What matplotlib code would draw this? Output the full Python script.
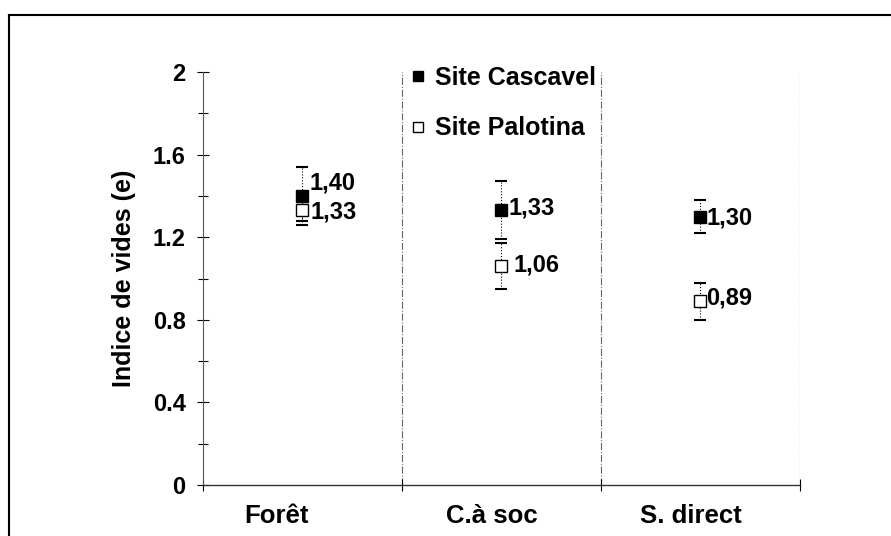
# Indice de vides par systeme de culture, deux sites

import matplotlib
matplotlib.use('Agg')
import matplotlib.pyplot as plt
import matplotlib.transforms as mtransforms
from matplotlib.lines import Line2D

plt.rcParams['font.family'] = ['Liberation Sans', 'DejaVu Sans']
plt.rcParams['font.weight'] = 'bold'

categories = ['Forêt', 'C.à soc', 'S. direct']
cascavel = [1.40, 1.33, 1.30]
cascavel_err = [0.14, 0.14, 0.08]
palotina = [1.33, 1.06, 0.89]
palotina_err = [0.05, 0.11, 0.09]
cascavel_labels = ['1,40', '1,33', '1,30']
palotina_labels = ['1,33', '1,06', '0,89']

fig = plt.figure(figsize=(8.91, 5.36), dpi=100)
ax = fig.add_axes([0.2278, 0.0951, 0.670, 0.7705])

x = [i + 0.5 for i in range(len(categories))]

ax.errorbar(x, cascavel, yerr=cascavel_err, fmt='s', color='black',
            mfc='black', mec='black', ms=8.5, ecolor='black', elinewidth=0.8,
            capsize=4.5, capthick=1.5, ls='none', zorder=3)
ax.errorbar(x, palotina, yerr=palotina_err, fmt='s', color='black',
            mfc='white', mec='black', ms=8.5, ecolor='black',
            elinewidth=0.8, capsize=4.5, capthick=1.5, ls='none', zorder=3)
for container in ax.containers:
    for line in container[2]:
        line.set_linestyle(':')

# value labels
offs_c = [(5, 9), (5, 2), (4, -1)]
offs_p = [(6, -1), (9, 1), (4, 2)]
for xi, v, t, o in zip(x, cascavel, cascavel_labels, offs_c):
    ax.annotate(t, (xi, v), xytext=o, textcoords='offset points',
                ha='left', va='center', fontsize=17, fontweight='bold')
for xi, v, t, o in zip(x, palotina, palotina_labels, offs_p):
    ax.annotate(t, (xi, v), xytext=o, textcoords='offset points',
                ha='left', va='center', fontsize=17, fontweight='bold')

ax.set_xlim(0, 3)
ax.set_ylim(0, 2)
ax.set_yticks([0, 0.4, 0.8, 1.2, 1.6, 2])
ax.set_yticklabels(['0', '0.4', '0.8', '1.2', '1.6', '2'])
ax.set_yticks([0.2, 0.6, 1.0, 1.4, 1.8], minor=True)
ax.set_xticks([0, 1, 2, 3])
ax.set_xticklabels([])
ax.set_xticks(x, minor=True)
ax.set_xticklabels(categories, minor=True)

ax.tick_params(axis='y', which='major', direction='inout', length=9,
               width=0.8, labelsize=17, pad=8)
ax.tick_params(axis='y', which='minor', direction='inout', length=7,
               width=0.8)
ax.tick_params(axis='x', which='major', direction='inout', length=9,
               width=0.8)
ax.tick_params(axis='x', which='minor', length=0, labelsize=18.5, pad=14)

# category labels sit a little left of the centres in the original
for lab, dx in zip(ax.get_xticklabels(minor=True), [-26, -10, -10]):
    lab.set_transform(lab.get_transform() +
                      mtransforms.ScaledTranslation(dx / 100, 0,
                                                    fig.dpi_scale_trans))

for xv in [1, 2, 3]:
    ax.axvline(xv, color='#666666', lw=0.8, ls='-.', zorder=1)

ax.spines['top'].set_visible(False)
ax.spines['right'].set_visible(False)
ax.spines['left'].set_color('#555555')
ax.spines['left'].set_linewidth(0.8)
ax.spines['bottom'].set_color('#333333')
ax.spines['bottom'].set_linewidth(1.0)

ax.set_ylabel('Indice de vides (e)', fontsize=18, fontweight='bold',
              labelpad=12)

handles = [Line2D([], [], marker='s', ls='none', mfc='black', mec='black',
                  ms=7.5),
           Line2D([], [], marker='s', ls='none', mfc='white', mec='black',
                  ms=7.5)]
ax.legend(handles, ['Site Cascavel', 'Site Palotina'], loc='upper left',
          bbox_to_anchor=(410 / 891, 1 - 66 / 536),
          bbox_transform=fig.transFigure, frameon=False,
          handlelength=0.6, handletextpad=0.4, labelspacing=1.05,
          borderpad=0, borderaxespad=0, prop={'weight': 'bold', 'size': 18})

# frame of the original figure
fig.add_artist(Line2D([9 / 891, 1], [1 - 15 / 536, 1 - 15 / 536],
                      transform=fig.transFigure, color='black', lw=1.5))
fig.add_artist(Line2D([9 / 891, 9 / 891], [0, 1 - 15 / 536],
                      transform=fig.transFigure, color='black', lw=1.5))

fig.savefig('out.png', dpi=100)
